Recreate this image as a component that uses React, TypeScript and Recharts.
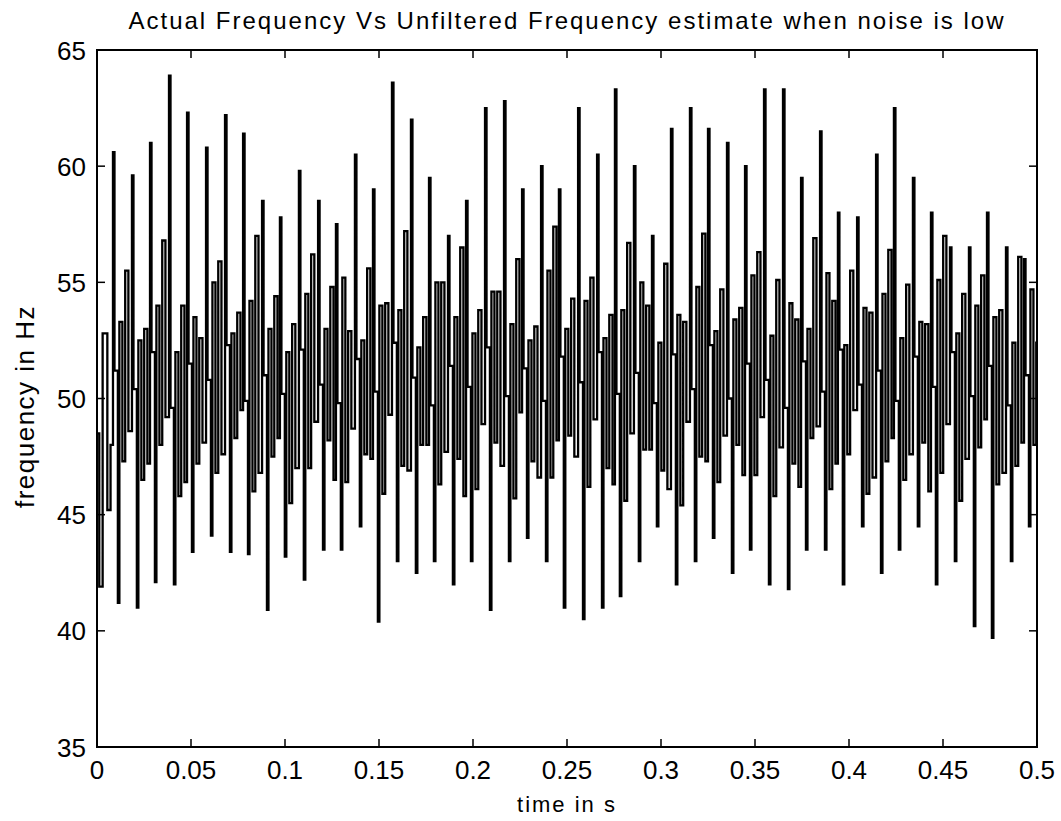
import { LineChart, Line, XAxis, YAxis, ReferenceArea } from "recharts";

// times (s) of the tall upward spikes
const peakTimes = [
  0.0085, 0.0186, 0.0282, 0.0383, 0.0479, 0.058, 0.0681, 0.0777, 0.0878, 0.0973,
  0.1074, 0.1176, 0.1271, 0.1372, 0.1468, 0.1569, 0.167, 0.1766, 0.1867, 0.1963,
  0.2064, 0.2165, 0.2261, 0.2362, 0.2457, 0.2559, 0.266, 0.2755, 0.2856, 0.2952,
  0.3053, 0.3154, 0.325, 0.3351, 0.3447, 0.3548, 0.3649, 0.3745, 0.3846, 0.3941,
  0.4043, 0.4144, 0.4239, 0.434, 0.4436, 0.4537, 0.4638, 0.4734, 0.4835, 0.4931,
];
const upPeaks = [
  60.6, 59.6, 61.0, 63.9, 62.3, 60.8, 62.2, 61.4, 58.5, 57.8,
  59.8, 58.5, 57.5, 60.5, 59.0, 63.6, 62.0, 59.5, 57.0, 58.5,
  62.5, 62.8, 59.0, 60.0, 59.0, 62.5, 60.5, 63.3, 60.0, 57.0,
  61.6, 62.5, 61.6, 61.0, 60.0, 63.3, 63.3, 59.5, 61.5, 58.0,
  57.8, 60.5, 62.5, 59.5, 58.0, 56.5, 56.5, 58.0, 56.5, 56.0,
];
// level the trace settles at just after each tall spike
const afterPeak = [
  51.2, 50.4, 52.0, 49.6, 51.5, 50.8, 52.3, 49.9, 51.0, 50.2,
  52.1, 50.6, 49.8, 51.7, 50.3, 52.4, 50.9, 49.7, 51.4, 50.5,
  52.2, 50.1, 51.3, 49.9, 51.8, 50.7, 52.0, 50.2, 51.1, 49.8,
  51.9, 50.4, 52.3, 50.0, 51.5, 50.8, 49.6, 51.6, 50.3, 52.1,
  50.6, 51.2, 49.9, 51.8, 50.5, 52.0, 50.1, 51.4, 49.7, 51.0,
];
const downMins = [
  41.2, 41.0, 42.1, 42.0, 43.4, 44.1, 43.4, 43.3, 40.9, 43.2,
  42.2, 43.5, 43.5, 44.5, 40.4, 43.0, 42.5, 43.0, 42.0, 43.0,
  40.9, 43.0, 44.0, 43.0, 41.0, 40.5, 41.0, 41.5, 43.0, 44.5,
  42.0, 43.0, 44.0, 42.5, 43.5, 42.0, 41.8, 43.5, 43.5, 42.0,
  44.5, 42.5, 43.5, 44.5, 42.0, 43.0, 40.2, 39.7, 43.0, 44.5,
];
// smaller swings between the big spikes
const riseA = [
  53.3, 52.5, 54.0, 52.0, 53.5, 55.0, 52.8, 54.2, 53.0, 52.0,
  54.5, 53.0, 55.2, 52.5, 54.0, 53.8, 52.2, 55.0, 53.5, 52.8,
  54.6, 53.2, 52.5, 55.5, 53.0, 54.2, 52.6, 53.8, 55.0, 52.4,
  53.6, 54.8, 52.9, 53.4, 55.3, 52.7, 54.1, 53.0, 55.4, 52.3,
  53.9, 54.5, 52.6, 53.3, 55.1, 52.8, 54.0, 53.5, 52.4, 54.7,
];
const dipA = [
  47.3, 46.5, 48.0, 45.8, 47.2, 46.8, 48.3, 46.0, 47.5, 45.5,
  47.0, 48.2, 46.4, 47.6, 45.9, 47.1, 48.0, 46.3, 47.4, 46.1,
  48.1, 45.7, 47.3, 46.6, 48.4, 46.2, 47.0, 45.6, 47.8, 46.9,
  45.4, 47.5, 46.4, 48.0, 46.7, 45.8, 47.2, 48.3, 46.1, 47.6,
  45.9, 47.3, 46.5, 48.1, 46.8, 45.6, 47.9, 46.3, 47.1, 48.0,
];
const riseB = [
  55.5, 53.0, 56.8, 54.0, 52.6, 55.9, 53.7, 57.0, 54.4, 53.2,
  56.2, 54.8, 52.9, 55.6, 54.1, 57.2, 53.5, 55.0, 56.5, 53.8,
  54.6, 56.0, 53.1, 57.4, 54.3, 55.2, 53.6, 56.7, 54.0, 55.8,
  53.3, 57.1, 54.7, 53.9, 56.3, 55.1, 53.4, 56.9, 54.2, 55.5,
  53.7, 56.4, 54.9, 53.2, 57.0, 54.5, 55.3, 53.8, 56.1, 52.4,
];
const dipB = [
  48.6, 47.2, 49.2, 46.4, 48.1, 47.6, 49.5, 46.8, 48.3, 47.0,
  49.0, 46.5, 48.7, 47.4, 49.3, 46.9, 48.0, 47.7, 45.8, 48.9,
  47.1, 49.4, 46.6, 48.2, 47.5, 49.1, 46.3, 48.5, 47.8, 46.1,
  49.0, 47.3, 48.4, 46.7, 49.2, 47.9, 46.2, 48.8, 47.2, 49.5,
  46.6, 48.3, 47.6, 46.0, 48.9, 47.4, 49.1, 46.8, 48.1, 47.5,
];
// the trace before the first spike
const leadTimes = [0, 0.0012, 0.003, 0.0055, 0.0072];
const leadValues = [48.5, 41.9, 52.8, 45.2, 48.0];

const xTicks = [0, 0.05, 0.1, 0.15, 0.2, 0.25, 0.3, 0.35, 0.4, 0.45, 0.5];
const yTicks = [35, 40, 45, 50, 55, 60, 65];

// where each held level starts inside one spike period
const stepOffsets = [0, 0.0008, 0.0026, 0.0034, 0.005, 0.0065, 0.0082];

const data: { t: number; f: number }[] = [];
leadTimes.forEach((t, i) => data.push({ t, f: leadValues[i] }));
peakTimes.forEach((tp, i) => {
  const vals = [upPeaks[i], afterPeak[i], downMins[i], riseA[i], dipA[i], riseB[i], dipB[i]];
  vals.forEach((f, k) => data.push({ t: tp + stepOffsets[k], f }));
});

const W = 1061;
const H = 821;
const LEFT = 97;
const RIGHT = 1037;
const TOP = 50;
const BOTTOM = 747;
const FONT = "'Liberation Sans', Arial, Helvetica, sans-serif";

const XTick = (props: any) => {
  const { x, payload } = props;
  return (
    <g>
      <line x1={x} x2={x} y1={BOTTOM} y2={BOTTOM - 8} stroke="#000" strokeWidth={1.5} />
      <line x1={x} x2={x} y1={TOP} y2={TOP + 8} stroke="#000" strokeWidth={1.5} />
      <text x={x} y={BOTTOM + 32} textAnchor="middle" fontSize={26} fontFamily={FONT} fill="#000">
        {String(payload.value)}
      </text>
    </g>
  );
};

const YTick = (props: any) => {
  const { y, payload } = props;
  return (
    <g>
      <line x1={LEFT} x2={LEFT + 8} y1={y} y2={y} stroke="#000" strokeWidth={1.5} />
      <line x1={RIGHT} x2={RIGHT - 8} y1={y} y2={y} stroke="#000" strokeWidth={1.5} />
      <text x={LEFT - 11} y={y + 9.5} textAnchor="end" fontSize={26} fontFamily={FONT} fill="#000">
        {String(payload.value)}
      </text>
    </g>
  );
};

export default function App() {
  return (
    <div style={{ position: "absolute", left: 0, top: 0, width: W, height: H, background: "#fff" }}>
      <LineChart
        width={W}
        height={H}
        data={data}
        margin={{ top: TOP, right: W - RIGHT, bottom: H - BOTTOM - 30, left: LEFT - 60 }}
      >
        <XAxis
          dataKey="t"
          type="number"
          domain={[0, 0.5]}
          ticks={xTicks}
          allowDataOverflow
          height={30}
          axisLine={false}
          tickLine={false}
          tick={(p: any) => <XTick {...p} />}
          interval={0}
        />
        <YAxis
          type="number"
          domain={[35, 65]}
          ticks={yTicks}
          allowDataOverflow
          width={60}
          axisLine={false}
          tickLine={false}
          tick={(p: any) => <YTick {...p} />}
          interval={0}
        />
        <Line
          type="stepAfter"
          dataKey="f"
          stroke="#000"
          strokeWidth={2.3}
          dot={false}
          isAnimationActive={false}
        />
        <ReferenceArea
          x1={0}
          x2={0.5}
          y1={35}
          y2={65}
          fill="none"
          fillOpacity={0}
          stroke="#000"
          strokeWidth={2}
          ifOverflow="visible"
        />
      </LineChart>
      <svg
        width={W}
        height={H}
        style={{ position: "absolute", left: 0, top: 0, pointerEvents: "none" }}
      >
        <text x={(LEFT + RIGHT) / 2} y={29} textAnchor="middle" fontSize={24} letterSpacing={2} fontFamily={FONT} fill="#000">
          Actual Frequency Vs  Unfiltered Frequency estimate when noise is low
        </text>
        <text x={(LEFT + RIGHT) / 2} y={812} textAnchor="middle" fontSize={22} letterSpacing={2} fontFamily={FONT} fill="#000">
          time in s
        </text>
        <text
          transform={`translate(34, ${(TOP + BOTTOM) / 2 + 8}) rotate(-90)`}
          textAnchor="middle"
          fontSize={26}
          letterSpacing={1.5}
          fontFamily={FONT}
          fill="#000"
        >
          frequency in Hz
        </text>
      </svg>
    </div>
  );
}
